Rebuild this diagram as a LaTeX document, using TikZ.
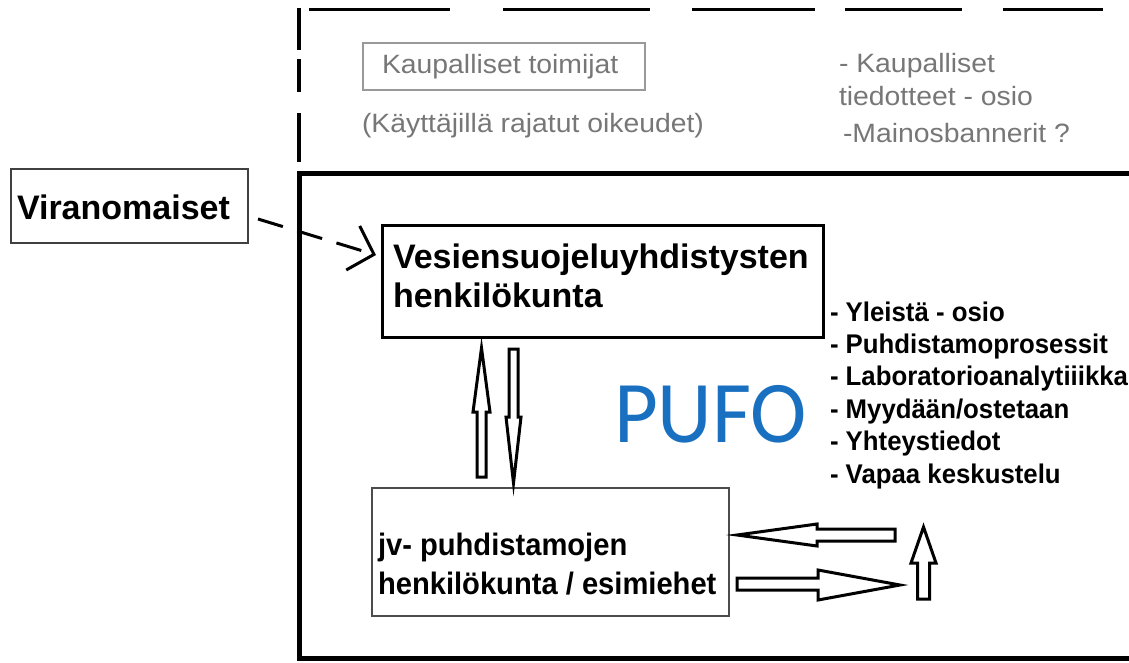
\documentclass[tikz,border=0pt]{standalone}
\usepackage{fontspec}
\setmainfont{Liberation Sans}
\newfontfamily\pufofont{Carlito}
\usetikzlibrary{arrows.meta}
\definecolor{graytext}{HTML}{777777}
\definecolor{pufoblue}{HTML}{1A70C0}
\newcommand\gstretch[1]{\scalebox{1.07}[1]{#1}}
\newcommand\lstretch[1]{\scalebox{0.955}[1]{#1}}
\newcommand\jstretch[1]{\scalebox{0.94}[1]{#1}}
\begin{document}
\begin{tikzpicture}[x=1pt,y=-1pt,
  txt/.style={inner sep=0pt, outer sep=0pt, anchor=base west},
  graytxt/.style={txt, text=graytext, font=\fontsize{26.5}{30}\selectfont},
  bigbold/.style={txt, font=\bfseries\fontsize{34}{39}\selectfont},
  listtxt/.style={txt, font=\bfseries\fontsize{27}{32}\selectfont},
  jvtxt/.style={txt, font=\bfseries\fontsize{31}{39}\selectfont},
  boxnode/.style={draw, inner sep=0pt, fill=none},
  blockarrow/.style={draw=black, line width=3pt, fill=white, line join=miter, miter limit=20},
  frameline/.style={line width=5pt, line cap=butt},
  dashseg/.style={line width=3pt, line cap=butt},
  vdashseg/.style={line width=4pt, line cap=butt}]
\useasboundingbox (0,0) rectangle (1129,662);
\fill[white] (0,0) rectangle (1129,662);
\clip (0,0) rectangle (1129,662);

% upper dashed region
\foreach \a/\b in {309/450,503/650,692/815,845/962,1003/1103}
  \draw[dashseg] (\a,9) -- (\b,9);
\foreach \a/\b in {8/50,59/92,113/162}
  \draw[vdashseg] (298.5,\a) -- (298.5,\b);

\node[boxnode, draw=black!40, line width=1.5pt, minimum width=282pt, minimum height=47pt] (kbox) at (504,66.5) {};
\node[graytxt] (ktxt) at (382,73) {\gstretch{Kaupalliset toimijat}};
\node[graytxt] (kref) at (362,132) {\gstretch{(Käyttäjillä rajatut oikeudet)}};
\node[graytxt] (kt1) at (839,72) {\gstretch{- Kaupalliset}};
\node[graytxt] (kt2) at (839,105) {\gstretch{tiedotteet - osio}};
\node[graytxt] (kt3) at (843,142) {\gstretch{-Mainosbannerit ?}};

% main frame
\draw[frameline] (1140,173) -- (299.5,173) -- (299.5,658.5) -- (1140,658.5);

% Viranomaiset
\node[boxnode, draw=black!75, line width=1.5pt, minimum width=237pt, minimum height=74pt] (vir) at (129.5,206) {};
\node[bigbold] (virtxt) at (17,219) {Viranomaiset};

% Vesiensuojeluyhdistysten henkilokunta
\node[boxnode, line width=3pt, minimum width=441pt, minimum height=112pt] (ves) at (602.5,281) {};
\node[bigbold] (ves1) at (393,268) {Vesiensuojeluyhdistysten};
\node[bigbold] (ves2) at (393,307) {henkilökunta};

% dashed arrow
\draw[line width=3pt, dash pattern=on 26pt off 15pt,
  -{Straight Barb[length=22pt,width=46pt,line width=3pt]}]
  ([shift={(9.25,13)}]vir.east) -- ([shift={(-4.5,-26)}]ves.west);

% jv box
\node[boxnode, draw=black!70, line width=1.5pt, minimum width=357pt, minimum height=128pt] (jv) at (550.5,552) {};
\node[jvtxt] (jv1) at (378,555) {\jstretch{jv- puhdistamojen}};
\node[jvtxt] (jv2) at (378,594) {\jstretch{henkilökunta / esimiehet}};

% vertical block arrows between boxes
\draw[blockarrow] (481.5,348) -- (490,412) -- (486,412) -- (486,477) -- (477,477) -- (477,412) -- (473,412) -- cycle;
\draw[blockarrow] (509,349) -- (518,349) -- (518,417) -- (521,417) -- (513.5,483) -- (506,417) -- (509,417) -- cycle;

% PUFO
\node[txt, text=pufoblue, font=\pufofont\fontsize{88}{90}\selectfont] (pufo) at (614,442) {\scalebox{0.965}[1]{PUFO}};

% list
\node[listtxt] (l1) at (830,321) {\lstretch{- Yleistä - osio}};
\node[listtxt] (l2) at (830,353.4) {\lstretch{- Puhdistamoprosessit}};
\node[listtxt] (l3) at (830,385.8) {\lstretch{- Laboratorioanalytiiikka}};
\node[listtxt] (l4) at (830,418.2) {\lstretch{- Myydään/ostetaan}};
\node[listtxt] (l5) at (830,450.6) {\lstretch{- Yhteystiedot}};
\node[listtxt] (l6) at (830,483) {\lstretch{- Vapaa keskustelu}};

% bottom block arrows
\draw[blockarrow] (737,535) -- (817,524) -- (817,529) -- (895,529) -- (895,541) -- (817,541) -- (817,546) -- cycle;
\draw[blockarrow] (737,578) -- (818,578) -- (818,570) -- (900,585) -- (818,600) -- (818,590) -- (737,590) -- cycle;
\draw[blockarrow] (923.5,527) -- (936,563) -- (929.5,563) -- (929.5,599) -- (917.5,599) -- (917.5,563) -- (911,563) -- cycle;
\end{tikzpicture}
\end{document}
